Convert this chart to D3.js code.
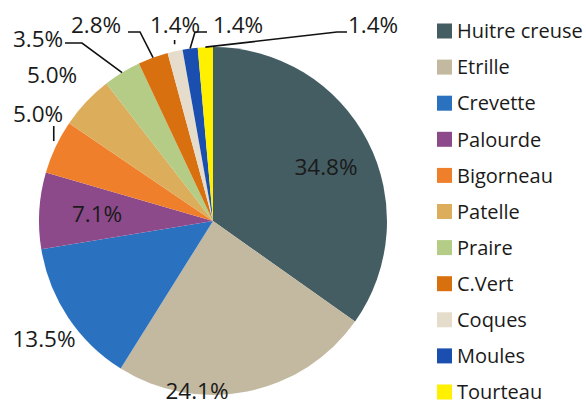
<!DOCTYPE html>
<html>
<head>
<meta charset="utf-8">
<script src="https://cdn.jsdelivr.net/npm/d3@7/dist/d3.min.js"></script>
<style>
  html, body { margin: 0; padding: 0; background: #fff; }
  svg { display: block; }
  text { font-family: "Open Sans", sans-serif; fill: #1a1a1a; }
</style>
</head>
<body>
<svg id="chart" width="586" height="405"></svg>
<script>
// Shellfish species share (%)
const categories = ["Huitre creuse", "Etrille", "Crevette", "Palourde", "Bigorneau",
                    "Patelle", "Praire", "C.Vert", "Coques", "Moules", "Tourteau"];
const values = [34.8, 24.1, 13.5, 7.1, 5.0, 5.0, 3.5, 2.8, 1.4, 1.4, 1.4];
const colors = ["#445d63", "#c3b9a0", "#2a72c0", "#8c4a8a", "#f07f2c",
                "#dcae5c", "#b4cc86", "#d9700f", "#e5dccb", "#1a4fb0", "#fff000"];

// Label placement: text centre x, baseline y, optional leader elbow
const labelLayout = [
  { x: 326, y: 175 },
  { x: 197, y: 399 },
  { x: 44,  y: 347 },
  { x: 97,  y: 222 },
  { x: 38,  y: 122, vertical: true, top: 126 },
  { x: 52,  y: 83 },
  { x: 38,  y: 47,  lineStart: [65, 43],  elbow: [82, 43] },
  { x: 96,  y: 33,  lineStart: [128, 32], elbow: [140, 32] },
  { x: 175, y: 33,  vertical: true, top: 40 },
  { x: 238, y: 33,  lineStart: [207, 32], elbow: [195, 32] },
  { x: 373, y: 33,  lineStart: [347, 32], elbow: [337, 32] }
];

const svg = d3.select("#chart");
const cx = 213, cy = 221, R = 174;

const pie = d3.pie().value(d => d).sort(null);
const arcs = pie(values);
const arc = d3.arc().innerRadius(0).outerRadius(R);

const g = svg.append("g").attr("transform", `translate(${cx},${cy})`);

g.selectAll("path.slice")
  .data(arcs)
  .join("path")
  .attr("class", "slice")
  .attr("d", arc)
  .attr("fill", (d, i) => colors[i]);

// Point on the rim at a slice's mid-angle, in page coordinates
function rimPoint(d, r) {
  const a = (d.startAngle + d.endAngle) / 2;
  return [cx + r * Math.sin(a), cy - r * Math.cos(a)];
}

const fmt = d3.format(".1f");

// Leader lines
arcs.forEach((d, i) => {
  const L = labelLayout[i];
  if (L.vertical) {
    const p = rimPoint(d, R + 2);
    svg.append("line")
      .attr("x1", p[0]).attr("x2", p[0])
      .attr("y1", L.top).attr("y2", p[1] - 5)
      .attr("stroke", "#111").attr("stroke-width", 1.6);
  } else if (L.elbow) {
    const p = rimPoint(d, R);
    svg.append("polyline")
      .attr("points", [L.lineStart, L.elbow, p].map(q => q.join(",")).join(" "))
      .attr("fill", "none")
      .attr("stroke", "#111").attr("stroke-width", 1.6);
  }
});

// Percentage labels
svg.selectAll("text.pct")
  .data(arcs)
  .join("text")
  .attr("class", "pct")
  .attr("x", (d, i) => labelLayout[i].x)
  .attr("y", (d, i) => labelLayout[i].y)
  .attr("text-anchor", "middle")
  .style("font-size", "22.5px")
  .text(d => fmt(d.data) + "%");

// Legend
const legend = svg.append("g").attr("transform", "translate(437,31)");
const rowH = 36.1;
const rows = legend.selectAll("g.row")
  .data(categories)
  .join("g")
  .attr("class", "row")
  .attr("transform", (d, i) => `translate(0,${i * rowH})`);

rows.append("rect")
  .attr("x", 0).attr("y", -7.5)
  .attr("width", 15).attr("height", 15)
  .attr("fill", (d, i) => colors[i]);

rows.append("text")
  .attr("x", 20).attr("y", 0)
  .attr("dy", "0.36em")
  .style("font-size", "20px")
  .text(d => d);
</script>
</body>
</html>
